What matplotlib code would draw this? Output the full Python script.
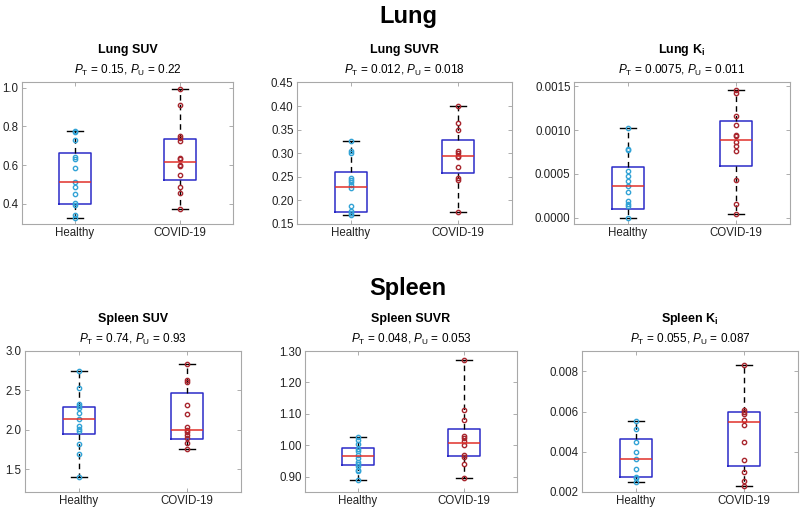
import matplotlib
matplotlib.use("Agg")
import matplotlib.pyplot as plt

plt.rcParams['font.family'] = ['Liberation Sans', 'DejaVu Sans']
plt.rcParams['mathtext.fontset'] = 'custom'
plt.rcParams['mathtext.rm'] = 'Liberation Sans'
plt.rcParams['mathtext.it'] = 'Liberation Sans:italic'
plt.rcParams['mathtext.bf'] = 'Liberation Sans:bold'

groups = ['Healthy', 'COVID-19']

# ---- Lung SUV
lung_suv_h = [0.777, 0.769, 0.729, 0.642, 0.630, 0.583, 0.513, 0.485, 0.450, 0.403, 0.396, 0.343, 0.329]
lung_suv_c = [0.995, 0.913, 0.751, 0.739, 0.725, 0.638, 0.630, 0.603, 0.598, 0.551, 0.487, 0.454, 0.374]
# stats: whislo, q1, med, q3, whishi
lung_suv_stats = [[0.329, 0.400, 0.511, 0.664, 0.777], [0.374, 0.522, 0.617, 0.734, 0.995]]

# ---- Lung SUVR
lung_suvr_h = [0.326, 0.305, 0.301, 0.247, 0.244, 0.239, 0.233, 0.227, 0.189, 0.177, 0.173, 0.169]
lung_suvr_c = [0.401, 0.365, 0.349, 0.305, 0.300, 0.295, 0.291, 0.270, 0.247, 0.244, 0.176]
lung_suvr_stats = [[0.169, 0.176, 0.228, 0.261, 0.326], [0.176, 0.259, 0.294, 0.327, 0.401]]

# ---- Lung Ki
lung_ki_h = [0.00102, 0.00079, 0.00077, 0.00053, 0.00048, 0.00042, 0.00036, 0.00029, 0.00019, 0.00016, 0.00013, 0.0]
lung_ki_c = [0.00146, 0.00142, 0.00116, 0.00106, 0.00095, 0.00093, 0.00087, 0.00082, 0.00076, 0.00043, 0.00016, 0.00004]
lung_ki_stats = [[0.0, 0.000103, 0.000365, 0.00058, 0.00102], [0.00004, 0.00059, 0.00089, 0.00111, 0.00146]]

# ---- Spleen SUV
spleen_suv_h = [2.742, 2.53, 2.33, 2.30, 2.28, 2.21, 2.14, 2.05, 2.01, 1.98, 1.82, 1.69, 1.40]
spleen_suv_c = [2.835, 2.63, 2.61, 2.32, 2.20, 2.03, 2.00, 1.97, 1.93, 1.89, 1.83, 1.75]
spleen_suv_stats = [[1.40, 1.94, 2.14, 2.29, 2.742], [1.754, 1.886, 2.0, 2.466, 2.835]]

# ---- Spleen SUVR
spleen_suvr_h = [1.025, 1.018, 1.005, 0.989, 0.982, 0.968, 0.959, 0.947, 0.941, 0.933, 0.922, 0.917, 0.890]
spleen_suvr_c = [1.271, 1.112, 1.079, 1.028, 1.023, 1.012, 1.000, 0.970, 0.963, 0.939, 0.896]
spleen_suvr_stats = [[0.890, 0.936, 0.965, 0.991, 1.025], [0.896, 0.967, 1.008, 1.053, 1.271]]

# ---- Spleen Ki
spleen_ki_h = [0.00554, 0.00514, 0.00451, 0.00401, 0.00363, 0.00313, 0.00276, 0.0027, 0.00251]
spleen_ki_c = [0.00832, 0.00609, 0.0060, 0.00589, 0.00559, 0.00531, 0.00451, 0.00361, 0.00298, 0.00253, 0.00228]
spleen_ki_stats = [[0.00251, 0.00276, 0.00364, 0.00463, 0.00554], [0.00228, 0.00328, 0.00546, 0.00597, 0.00832]]

panels = [
    ('Lung SUV', r'$P_\mathrm{T}$ = 0.15, $P_\mathrm{U}$ = 0.22', lung_suv_h, lung_suv_c, lung_suv_stats,
     (0.296, 1.03), [0.4, 0.6, 0.8, 1.0], '%.1f'),
    ('Lung SUVR', r'$P_\mathrm{T}$ = 0.012, $P_\mathrm{U}$ = 0.018', lung_suvr_h, lung_suvr_c, lung_suvr_stats,
     (0.15, 0.451), [0.15, 0.20, 0.25, 0.30, 0.35, 0.40, 0.45], '%.2f'),
    (r'Lung K$_\mathbf{i}$', r'$P_\mathrm{T}$ = 0.0075, $P_\mathrm{U}$ = 0.011', lung_ki_h, lung_ki_c, lung_ki_stats,
     (-0.000072, 0.00155), [0.0, 0.0005, 0.0010, 0.0015], '%.4f'),
    ('Spleen SUV', r'$P_\mathrm{T}$ = 0.74, $P_\mathrm{U}$ = 0.93', spleen_suv_h, spleen_suv_c, spleen_suv_stats,
     (1.208, 3.0), [1.5, 2.0, 2.5, 3.0], '%.1f'),
    ('Spleen SUVR', r'$P_\mathrm{T}$ = 0.048, $P_\mathrm{U}$ = 0.053', spleen_suvr_h, spleen_suvr_c, spleen_suvr_stats,
     (0.851, 1.30), [0.90, 1.00, 1.10, 1.20, 1.30], '%.2f'),
    (r'Spleen K$_\mathbf{i}$', r'$P_\mathrm{T}$ = 0.055, $P_\mathrm{U}$ = 0.087', spleen_ki_h, spleen_ki_c, spleen_ki_stats,
     (0.002, 0.00901), [0.002, 0.004, 0.006, 0.008], '%.3f'),
]

W, H = 800.0, 508.0
# pixel boxes: left, right, top, bottom
boxes = [(22, 233, 82, 224), (297, 512, 82, 224), (574, 790, 82, 224),
         (25, 241, 351, 492), (305, 517, 351, 492), (582, 798, 351, 492)]

fig = plt.figure(figsize=(8, 5.08), dpi=100)

h_col = '#33a3d6'
c_col = '#a8262e'

for (title, ptxt, hv, cv, st, ylim, yt, fmt), (l, r, t, b) in zip(panels, boxes):
    ax = fig.add_axes([l / W, 1 - b / H, (r - l) / W, (b - t) / H])
    stats = []
    for s in st:
        stats.append({'whislo': s[0], 'q1': s[1], 'med': s[2], 'q3': s[3], 'whishi': s[4], 'fliers': []})
    ax.bxp(stats, positions=[1, 2], widths=0.3, showfliers=False,
           boxprops=dict(color='#2b2bc8', linewidth=1.1),
           medianprops=dict(color='#e0302a', linewidth=1.1),
           whiskerprops=dict(color='black', linestyle=(0, (4, 3)), linewidth=1.0),
           capprops=dict(color='black', linewidth=1.0), capwidths=0.15)
    ax.plot([1] * len(hv), hv, 'o', ms=3.1, mfc='none', mec=h_col, mew=1.0)
    ax.plot([2] * len(cv), cv, 'o', ms=3.1, mfc='none', mec=c_col, mew=1.0)
    ax.set_xlim(0.5, 2.5)
    ax.set_ylim(*ylim)
    ax.set_yticks(yt)
    ax.set_yticklabels([fmt % v for v in yt])
    ax.set_xticks([1, 2])
    ax.set_xticklabels(groups)
    ax.tick_params(direction='in', length=3, width=0.6, color='#a0a0a0', labelsize=8.3,
                   labelcolor='#222222', top=True, right=True, pad=2.5)
    for sp in ax.spines.values():
        sp.set_color('#a8a8a8')
        sp.set_linewidth(0.8)
    cx = (l + r) / 2 / W
    fig.text(cx, 1 - (t - 32) / H, title, ha='center', va='center', fontsize=9, fontweight='bold')
    fig.text(cx, 1 - (t - 12) / H, ptxt, ha='center', va='center', fontsize=8.5)

fig.text(0.51, 1 - 17 / H, 'Lung', ha='center', va='center', fontsize=17, fontweight='bold')
fig.text(0.51, 1 - 289 / H, 'Spleen', ha='center', va='center', fontsize=17, fontweight='bold')

fig.savefig('out.png', dpi=100)
